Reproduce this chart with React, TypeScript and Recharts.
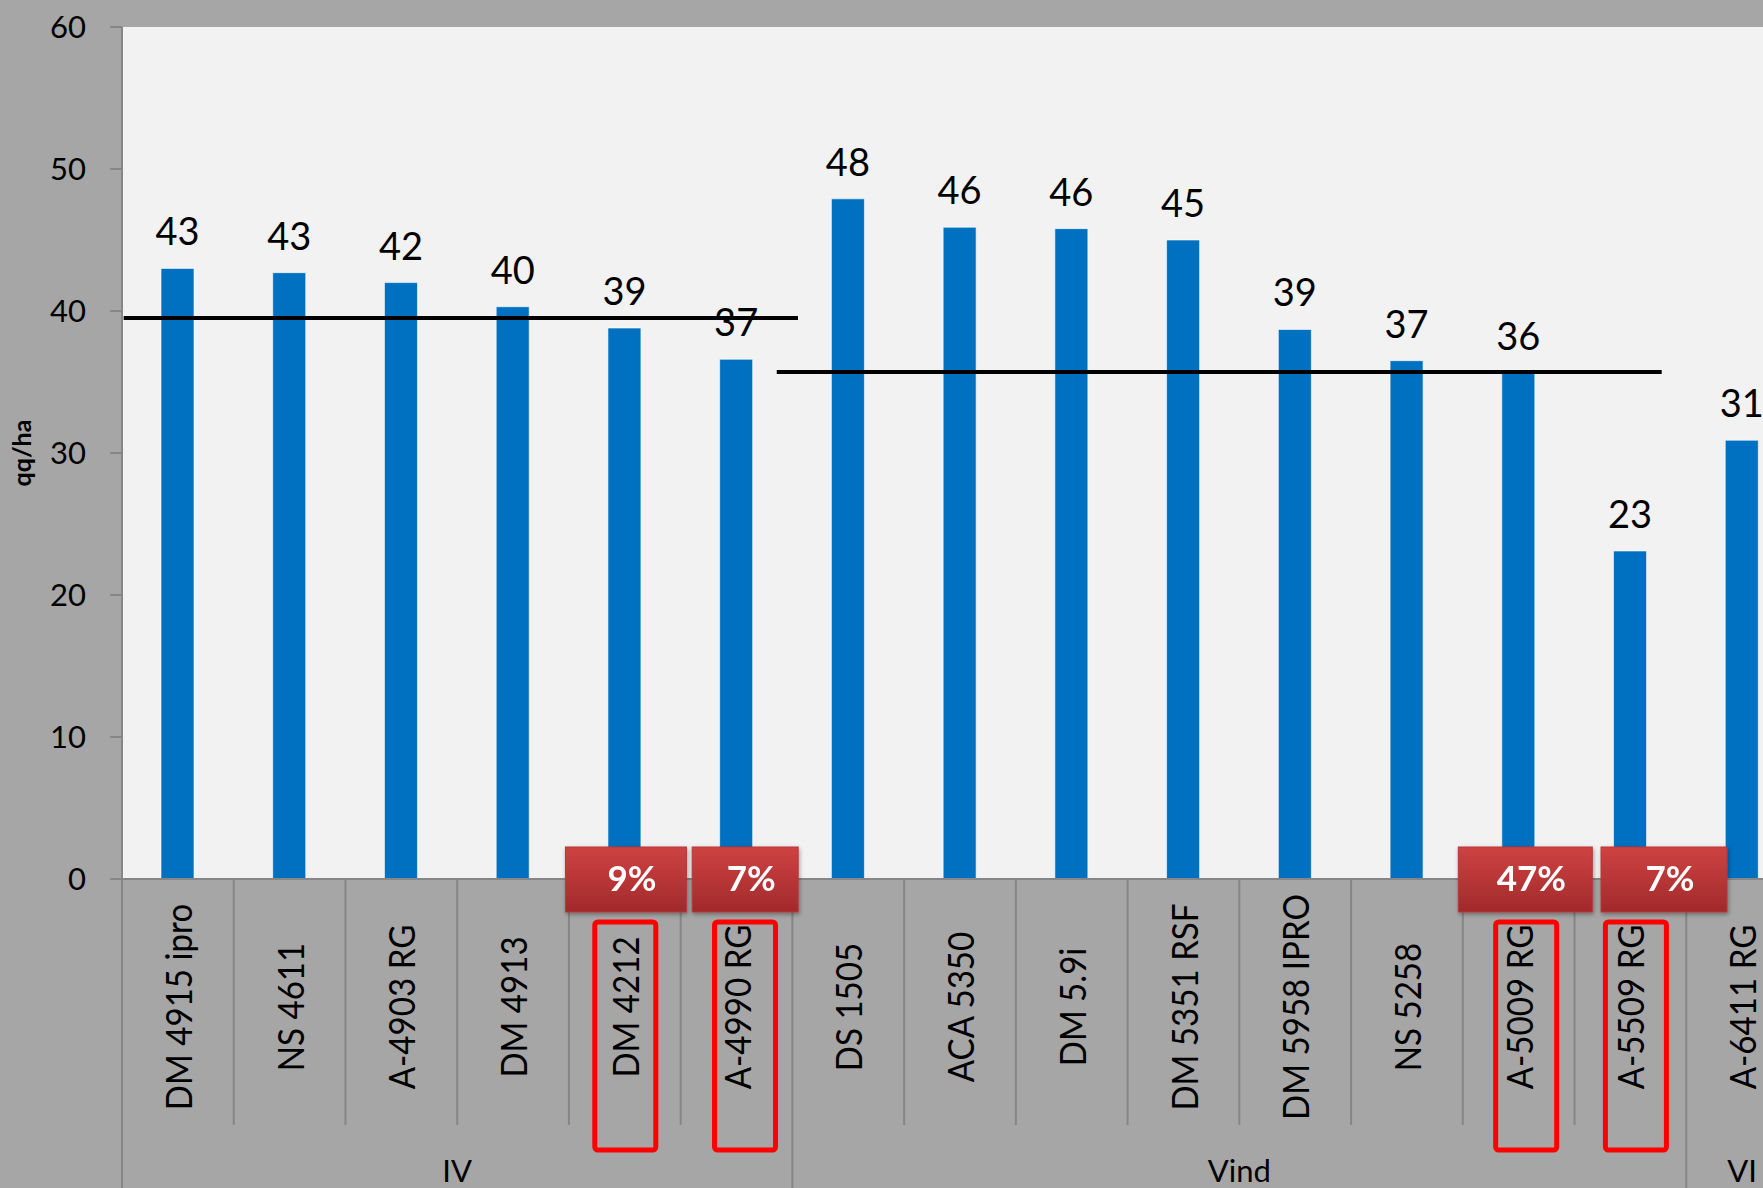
import { BarChart, Bar, XAxis, YAxis, CartesianGrid, LabelList, ReferenceLine } from "recharts";

// varieties in plotting order
const CATEGORIES = [
  "DM 4915 ipro", "NS 4611", "A-4903 RG", "DM 4913", "DM 4212", "A-4990 RG",
  "DS 1505", "ACA 5350", "DM 5.9i", "DM 5351 RSF", "DM 5958 IPRO", "NS 5258",
  "A-5009 RG", "A-5509 RG", "A-6411 RG",
];
const YIELDS = [43.0, 42.7, 42.0, 40.3, 38.8, 36.6, 47.9, 45.9, 45.8, 45.0, 38.7, 36.5, 35.6, 23.1, 30.9];
const LOSS_PCT: (number | null)[] = [null, null, null, null, 9, 7, null, null, null, null, null, null, 47, 7, null];
const GROUP_NAMES = ["IV", "Vind", "VI"];
const GROUP_SIZES = [6, 8, 1];
const GROUP_MEANS = [39.5, 35.7];
const Y_TICKS = [0, 10, 20, 30, 40, 50, 60];

// pos = centre of the category in category units, for the hidden numeric axis
const data = CATEGORIES.map((name, i) => ({ name, pos: i + 0.5, yield: YIELDS[i], loss: LOSS_PCT[i] }));
const groupStart = new Map<number, number>();
GROUP_SIZES.reduce((s, n, g) => { groupStart.set(s, g); return s + n; }, 0);

// layout
const W = 1798;
const H = 1188;
const TOP = 27;
const Y_W = 122;
const X_H = 309;
const BW = (W - Y_W) / CATEGORIES.length;
const FONT = "Lato, 'Noto Sans', sans-serif";
const GRAY_LINE = "#868686";

// where the hand-drawn mean bars start/end, in category units
const MEAN_SPANS = [[0.015, 6.05], [5.86, 13.78]];
// red badges: [left offset from bar centre, width]
const BADGE: Record<number, [number, number]> = { 4: [-59, 121], 5: [-44, 106], 12: [-60, 134], 13: [-29, 126] };
// red outline boxes round the labels: left offset from tick
const OUTLINE: Record<number, number> = { 4: -30, 5: -22, 12: -23, 13: -25 };

function CatTick(props: any) {
  const { x, y, index, payload } = props;
  const left = x - BW / 2;
  const g = groupStart.get(index);
  const isStart = g !== undefined;
  return (
    <g>
      <line x1={left} x2={left} y1={y} y2={isStart ? H : y + 246} stroke={GRAY_LINE} strokeWidth={2} />
      <text
        transform={`translate(${x},1007) rotate(-90) scale(0.92,1)`}
        textAnchor="middle" dominantBaseline="central"
        fontFamily={FONT} fontSize={36} fill="#000"
      >
        {payload.value}
      </text>
      {LOSS_PCT[index] != null && (
        <rect x={x + (OUTLINE[index] ?? -25)} y={922} width={61} height={228} rx={3}
          fill="none" stroke="#ff0000" strokeWidth={5} />
      )}
      {isStart && (
        <text x={left + (GROUP_SIZES[g!] * BW) / 2} y={1182} textAnchor="middle"
          fontFamily={FONT} fontSize={31} fill="#000">
          {GROUP_NAMES[g!]}
        </text>
      )}
    </g>
  );
}

function LossBadge(props: any) {
  const { x, y, width, height, index, value } = props;
  if (value == null) return null;
  const cx = x + width / 2;
  const base = y + height;
  const [off, w] = BADGE[index] ?? [-60, 120];
  return (
    <g filter="url(#badgeShadow)">
      <rect x={cx + off} y={base - 32} width={w} height={65} fill="url(#badgeFill)" stroke="#b93636" strokeWidth={1} />
      <text x={cx + off + w / 2 + 6} y={base + 12} textAnchor="middle"
        fontFamily={FONT} fontWeight={700} fontSize={35} fill="#fff">
        {value}%
      </text>
    </g>
  );
}

export default function App() {
  return (
    <div style={{ position: "absolute", left: 0, top: 0, width: 1763, height: H, overflow: "hidden", background: "#a6a6a6" }}>
      <BarChart width={W} height={H} data={data} margin={{ top: TOP, right: 0, left: 0, bottom: 0 }}>
        <defs>
          <linearGradient id="badgeFill" x1="0" y1="0" x2="0" y2="1">
            <stop offset="0%" stopColor="#cf4242" />
            <stop offset="100%" stopColor="#a1292b" />
          </linearGradient>
          <filter id="badgeShadow" x="-10%" y="-10%" width="130%" height="140%">
            <feDropShadow dx={1} dy={2} stdDeviation={2} floodColor="#000" floodOpacity={0.35} />
          </filter>
        </defs>
        <CartesianGrid fill="#f2f2f2" horizontal={false} vertical={false} />
        <XAxis dataKey="name" height={X_H} interval={0} tickLine={false} tickSize={0} tickMargin={0}
          axisLine={{ stroke: GRAY_LINE, strokeWidth: 2 }} tick={(p: any) => <CatTick {...p} />} />
        <XAxis xAxisId="pos" dataKey="pos" type="number" domain={[0, CATEGORIES.length]} allowDataOverflow hide />
        <YAxis domain={[0, 60]} ticks={Y_TICKS} width={Y_W} tickSize={12} tickMargin={24}
          axisLine={{ stroke: GRAY_LINE, strokeWidth: 2 }} tickLine={{ stroke: GRAY_LINE, strokeWidth: 2 }}
          tick={{ fill: "#000", fontSize: 31, fontFamily: FONT }}
          label={{ value: "qq/ha", angle: -90, position: "insideLeft", offset: 22,
            style: { fontFamily: FONT, fontWeight: 700, fontSize: 25, fill: "#000", textAnchor: "middle" } }} />
        <Bar dataKey="yield" fill="#0070c0" barSize={33} stroke="#ffffff" strokeOpacity={0.6} strokeWidth={1}
          isAnimationActive={false}>
          <LabelList dataKey="yield" position="top" offset={23} formatter={(v: any) => Math.round(Number(v))}
            style={{ fontFamily: FONT, fontSize: 38, fill: "#000" }} />
          <LabelList dataKey="loss" content={(p: any) => <LossBadge {...p} />} />
        </Bar>
        {GROUP_MEANS.map((m, i) => (
          <ReferenceLine key={i} xAxisId="pos" stroke="#000" strokeWidth={4}
            segment={[{ x: MEAN_SPANS[i][0], y: m }, { x: MEAN_SPANS[i][1], y: m }]} />
        ))}
      </BarChart>
    </div>
  );
}
